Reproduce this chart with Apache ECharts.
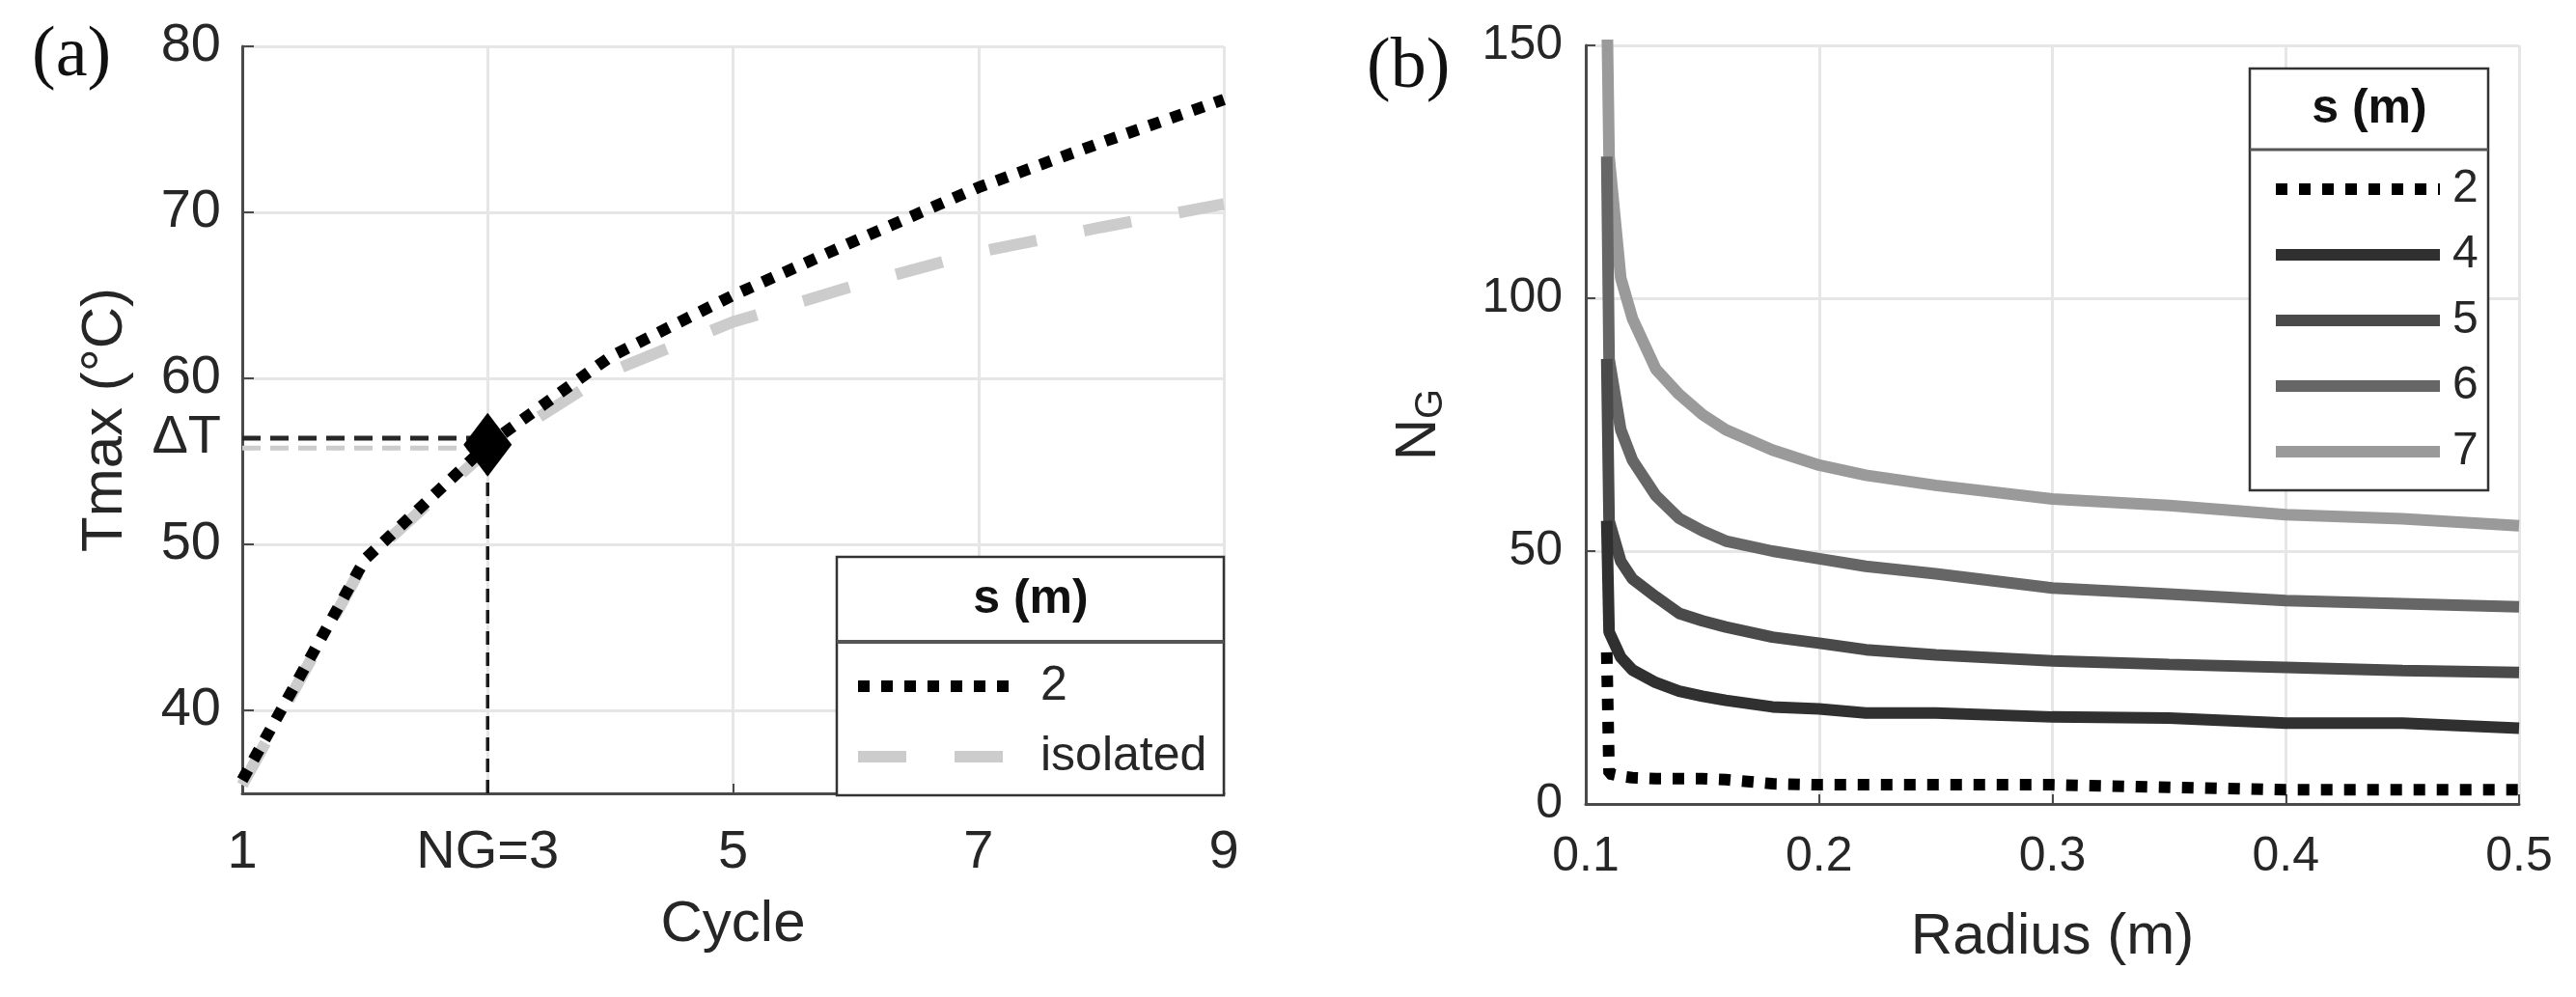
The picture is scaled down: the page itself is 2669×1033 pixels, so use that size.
<!DOCTYPE html>
<html>
<head>
<meta charset="utf-8">
<script src="https://cdn.jsdelivr.net/npm/echarts@6/dist/echarts.min.js"></script>
<style>
html, body { margin: 0; padding: 0; background: #fff; }
#main { width: 2669px; height: 1033px; }
</style>
</head>
<body>
<div id="main"></div>
<script>
// (a) Tmax vs cycle
var cycles = [1, 2, 3, 4, 5, 6, 7, 8, 9];
var tmaxS2 = [35.8, 49.1, 56.0, 61.3, 65.0, 68.3, 71.5, 74.2, 76.8];
var tmaxIsolated = [35.5, 49.0, 55.7, 60.4, 63.4, 65.6, 67.6, 69.1, 70.5];
var cycleTicks = [1, 3, 5, 7, 9];
var tmaxTicks = [40, 50, 60, 70, 80];
var ngCycle = 3;
var deltaTs2 = 56.4;
var deltaTIso = 55.8;

// (b) N_G vs radius
var radius = [0.109, 0.11, 0.115, 0.12, 0.13, 0.14, 0.15, 0.16, 0.18, 0.2, 0.22, 0.25, 0.3, 0.35, 0.4, 0.45, 0.5];
var ngS2 = [30, 6, 5.5, 5.2, 5, 5, 5, 4.8, 4, 3.8, 3.8, 3.8, 3.8, 3.3, 2.8, 2.8, 2.8];
var ngS4 = [56, 34, 29, 26.5, 24, 22.3, 21.3, 20.5, 19.2, 18.8, 18, 18, 17.2, 17, 16, 16, 15];
var ngS5 = [88, 56, 48, 44.5, 41, 37.7, 36.2, 35, 33, 31.8, 30.5, 29.5, 28.3, 27.6, 27, 26.4, 26];
var ngS6 = [128, 88, 74, 68, 61, 56.5, 54, 52, 50, 48.5, 47, 45.5, 42.7, 41.5, 40.2, 39.6, 39];
var ngS7 = [160, 128, 104, 96, 86, 81, 77, 74, 70, 67, 65, 63, 60.3, 59, 57.2, 56.4, 55];

var FONT = '"Liberation Sans", Arial, sans-serif';
var TXT = '#262626';
var AXIS = '#4a4a4a';
var GRIDC = '#e6e6e6';

function zip(xs, ys) {
    return xs.map(function (x, i) { return [x, ys[i]]; });
}

var chart = echarts.init(document.getElementById('main'), null, {renderer: 'canvas'});

var legendLine = {width: 'inherit', type: 'inherit', cap: 'butt'};

var option = {
    animation: false,
    backgroundColor: '#fff',
    grid: [
        {left: 251, top: 48, right: 2669 - 1268, bottom: 1033 - 822},
        {left: 1643, top: 47, right: 2669 - 2610, bottom: 1033 - 833}
    ],
    xAxis: [
        {
            gridIndex: 0, type: 'value', min: 1, max: 9,
            name: 'Cycle', nameLocation: 'middle', nameGap: 106,
            nameTextStyle: {fontSize: 60, fontFamily: FONT, color: TXT},
            axisLine: {lineStyle: {color: AXIS, width: 3}},
            axisTick: {show: true, inside: true, length: 10, customValues: cycleTicks, lineStyle: {color: AXIS, width: 2}},
            axisLabel: {
                customValues: cycleTicks, margin: 34, fontSize: 56, fontFamily: FONT, color: TXT,
                formatter: function (v) { return v === ngCycle ? 'NG=' + v : String(v); }
            },
            splitLine: {show: true, lineStyle: {color: GRIDC, width: 3}}
        },
        {
            gridIndex: 1, type: 'value', min: 0.1, max: 0.5, interval: 0.1,
            name: 'Radius (m)', nameLocation: 'middle', nameGap: 108,
            nameTextStyle: {fontSize: 60, fontFamily: FONT, color: TXT},
            axisLine: {lineStyle: {color: AXIS, width: 3}},
            axisTick: {show: true, inside: true, length: 10, lineStyle: {color: AXIS, width: 2}},
            axisLabel: {
                margin: 30, fontSize: 50, fontFamily: FONT, color: TXT,
                formatter: function (v) { return v.toFixed(1); }
            },
            splitLine: {show: true, lineStyle: {color: GRIDC, width: 3}}
        }
    ],
    yAxis: [
        {
            gridIndex: 0, type: 'value', min: 35, max: 80,
            name: 'Tmax (°C)', nameLocation: 'middle', nameGap: 112,
            nameTextStyle: {fontSize: 60, fontFamily: FONT, color: TXT},
            axisLine: {show: true, lineStyle: {color: AXIS, width: 3}},
            axisTick: {show: true, inside: true, length: 12, customValues: tmaxTicks, lineStyle: {color: AXIS, width: 2}},
            axisLabel: {
                customValues: [40, 50, deltaTs2, 60, 70, 80], margin: 22, fontSize: 56, fontFamily: FONT, color: TXT,
                formatter: function (v) { return v === deltaTs2 ? 'ΔT' : String(v); }
            },
            splitLine: {show: true, lineStyle: {color: GRIDC, width: 3}}
        },
        {
            gridIndex: 1, type: 'value', min: 0, max: 150, interval: 50,
            name: 'N{g|G}', nameLocation: 'middle', nameGap: 140,
            nameTextStyle: {
                fontSize: 60, fontFamily: FONT, color: TXT,
                rich: {g: {fontSize: 40, fontFamily: FONT, color: TXT, padding: [26, 0, 0, 0]}}
            },
            axisLine: {show: true, lineStyle: {color: AXIS, width: 3}},
            axisTick: {show: true, inside: true, length: 10, lineStyle: {color: AXIS, width: 2}},
            axisLabel: {margin: 24, fontSize: 50, fontFamily: FONT, color: TXT},
            splitLine: {show: true, lineStyle: {color: GRIDC, width: 3}}
        }
    ],
    legend: [
        {
            data: ['2', 'isolated'], orient: 'vertical', left: 883, top: 683, padding: 0,
            itemWidth: 168, itemHeight: 14, itemGap: 17, selectedMode: false, z: 6,
            lineStyle: legendLine, itemStyle: {opacity: 0},
            textStyle: {fontSize: 50, lineHeight: 56, fontFamily: FONT, color: TXT, padding: [0, 0, 0, 16]}
        },
        {
            data: ['2', '4', '5', '6', '7'], orient: 'vertical', left: 2352, top: 170, padding: 0,
            itemWidth: 170, itemHeight: 14, itemGap: 16, selectedMode: false, z: 6,
            lineStyle: legendLine, itemStyle: {opacity: 0},
            textStyle: {fontSize: 48, lineHeight: 52, fontFamily: FONT, color: TXT, padding: [0, 0, 0, 8]}
        }
    ],
    graphic: [
        {type: 'text', left: 33, top: 22, z: 10, style: {text: '(a)', font: '74px "Liberation Serif", serif', fill: '#111'}},
        {type: 'text', left: 1416, top: 34, z: 10, style: {text: '(b)', font: '74px "Liberation Serif", serif', fill: '#111'}},
        // legend frame (a)
        {type: 'rect', z: 5, shape: {x: 867, y: 577, width: 401, height: 247}, style: {fill: '#fff', stroke: '#333', lineWidth: 2.5}},
        {type: 'line', z: 5, shape: {x1: 867, y1: 665, x2: 1268, y2: 665}, style: {stroke: '#555', lineWidth: 4}},
        {type: 'text', z: 6, x: 1068, y: 621, style: {text: 's (m)', font: 'bold 50px "Liberation Sans", Arial, sans-serif', fill: '#111', align: 'center', verticalAlign: 'middle', textAlign: 'center', textVerticalAlign: 'middle'}},
        // legend frame (b)
        {type: 'rect', z: 5, shape: {x: 2331, y: 71, width: 247, height: 437}, style: {fill: '#fff', stroke: '#333', lineWidth: 2.5}},
        {type: 'line', z: 5, shape: {x1: 2331, y1: 155, x2: 2578, y2: 155}, style: {stroke: '#555', lineWidth: 3}},
        {type: 'text', z: 6, x: 2455, y: 113, style: {text: 's (m)', font: 'bold 50px "Liberation Sans", Arial, sans-serif', fill: '#111', align: 'center', verticalAlign: 'middle', textAlign: 'center', textVerticalAlign: 'middle'}}
    ],
    series: [
        {
            name: 'isolated', type: 'line', xAxisIndex: 0, yAxisIndex: 0,
            data: zip(cycles, tmaxIsolated), symbol: 'none', silent: true,
            lineStyle: {color: '#cccccc', width: 12, type: [50, 50]},
            itemStyle: {color: '#cccccc'}
        },
        {
            name: 'dT isolated', type: 'line', xAxisIndex: 0, yAxisIndex: 0,
            data: [[cycles[0], deltaTIso], [ngCycle, deltaTIso]], symbol: 'none', silent: true,
            lineStyle: {color: '#cccccc', width: 5, type: [19, 10]}
        },
        {
            name: 'dT 2', type: 'line', xAxisIndex: 0, yAxisIndex: 0,
            data: [[cycles[0], deltaTs2], [ngCycle, deltaTs2]], symbol: 'none', silent: true,
            lineStyle: {color: '#262626', width: 5, type: [19, 10]}
        },
        {
            name: 'NG line', type: 'line', xAxisIndex: 0, yAxisIndex: 0,
            data: [[ngCycle, 35], [ngCycle, tmaxS2[2]]], symbol: 'none', silent: true,
            lineStyle: {color: '#1a1a1a', width: 3.5, type: [14, 8]}
        },
        {
            name: '2', type: 'line', xAxisIndex: 0, yAxisIndex: 0,
            data: zip(cycles, tmaxS2), symbol: 'none', silent: true,
            lineStyle: {color: '#000', width: 12, type: [12, 12]},
            itemStyle: {color: '#000'}
        },
        {
            name: 'NG point', type: 'scatter', xAxisIndex: 0, yAxisIndex: 0,
            data: [[ngCycle, tmaxS2[2]]], symbol: 'diamond', symbolSize: [50, 66], silent: true,
            itemStyle: {color: '#000', opacity: 1}, z: 4
        },
        {
            name: '7', type: 'line', xAxisIndex: 1, yAxisIndex: 1,
            data: zip(radius, ngS7), symbol: 'none', silent: true,
            lineStyle: {color: '#9a9a9a', width: 12}, itemStyle: {color: '#9a9a9a'}
        },
        {
            name: '6', type: 'line', xAxisIndex: 1, yAxisIndex: 1,
            data: zip(radius, ngS6), symbol: 'none', silent: true,
            lineStyle: {color: '#666666', width: 12}, itemStyle: {color: '#666666'}
        },
        {
            name: '5', type: 'line', xAxisIndex: 1, yAxisIndex: 1,
            data: zip(radius, ngS5), symbol: 'none', silent: true,
            lineStyle: {color: '#4a4a4a', width: 12}, itemStyle: {color: '#4a4a4a'}
        },
        {
            name: '4', type: 'line', xAxisIndex: 1, yAxisIndex: 1,
            data: zip(radius, ngS4), symbol: 'none', silent: true,
            lineStyle: {color: '#303030', width: 12}, itemStyle: {color: '#303030'}
        },
        {
            name: '2', type: 'line', xAxisIndex: 1, yAxisIndex: 1,
            data: zip(radius, ngS2), symbol: 'none', silent: true,
            lineStyle: {color: '#000', width: 12, type: [12, 12]}, itemStyle: {color: '#000'}
        }
    ]
};

chart.setOption(option);
</script>
</body>
</html>
